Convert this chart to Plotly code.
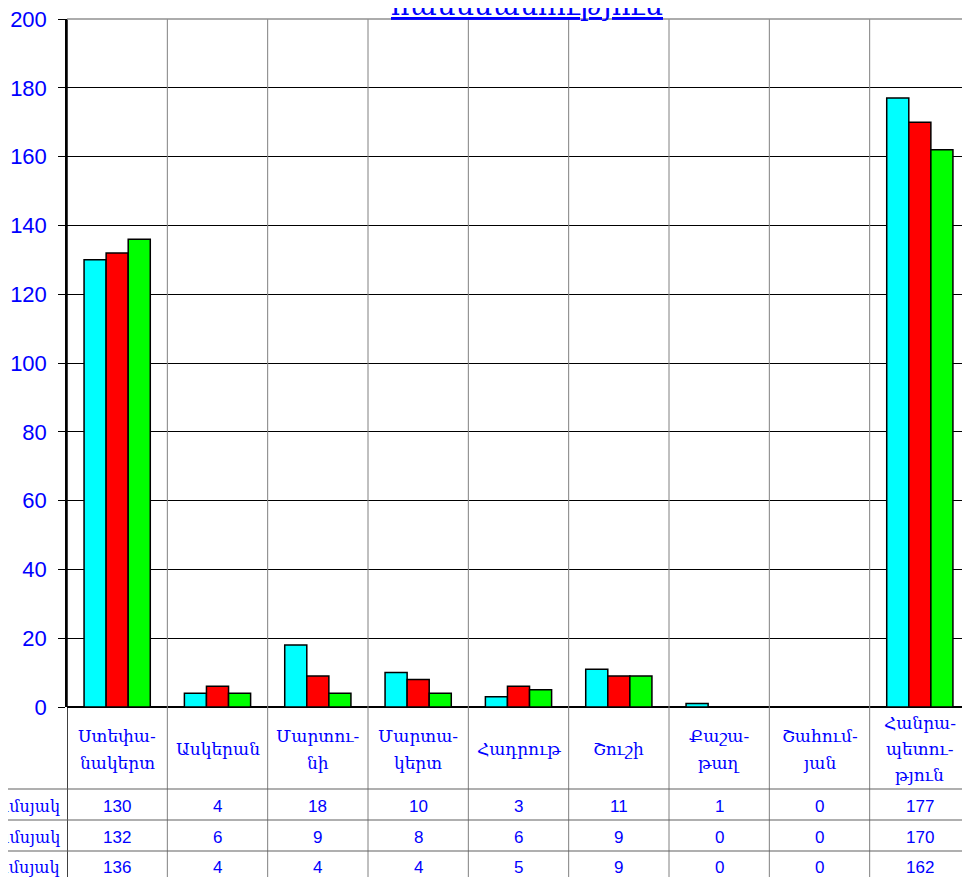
import plotly.graph_objs as go

categories = [["Ստեփա-", "նակերտ"], ["Ասկերան"], ["Մարտու-", "նի"], ["Մարտա-", "կերտ"], ["Հադրութ"],
              ["Շուշի"], ["Քաշա-", "թաղ"], ["Շահում-", "յան"], ["Հանրա-", "պետու-", "թյուն"]]
series_names = ["I եռամսյակ", "II եռամսյակ", "III եռամսյակ"]
series_1 = [130, 4, 18, 10, 3, 11, 1, 0, 177]
series_2 = [132, 6, 9, 8, 6, 9, 0, 0, 170]
series_3 = [136, 4, 4, 4, 5, 9, 0, 0, 162]
colors = ["#00ffff", "#ff0000", "#00ff00"]
y_ticks = [0, 20, 40, 60, 80, 100, 120, 140, 160, 180, 200]

# the page has an 8px body margin, so everything is laid out in page pixels
OFF = 8
W, H = 970, 877
LEFT, TOP, BOTTOM, RIGHT = 67, 19, 707, 970
plot_h = BOTTOM - TOP
plot_w = RIGHT - LEFT

def py(pix):
    # page pixel row -> paper y
    return (BOTTOM - pix) / plot_h

def px(pix):
    return (pix - LEFT) / plot_w

blue = "#0000ff"
x = list(range(len(categories)))

fig = go.Figure()
for name, vals, col in zip(series_names, [series_1, series_2, series_3], colors):
    fig.add_trace(go.Bar(
        x=x, y=vals, name=name,
        marker=dict(color=col, line=dict(color="black", width=1.5)),
    ))

shapes = []
# vertical category separators, running down through the table
for i in range(len(categories) + 1):
    shapes.append(dict(type="line", xref="x", yref="paper",
                       x0=i - 0.5, x1=i - 0.5, y0=py(H + 20), y1=1,
                       line=dict(color="#808080" if i > 0 else "black", width=1.5 if i == 0 else 1)))
# table horizontal lines
for pix in [789, 820, 851]:
    shapes.append(dict(type="line", xref="paper", yref="paper",
                       x0=px(-20), x1=1, y0=py(pix), y1=py(pix),
                       line=dict(color="#606060", width=1.2)))
# top border
shapes.append(dict(type="line", xref="paper", yref="paper", x0=0, x1=1, y0=1, y1=1,
                   line=dict(color="#909090", width=1.5)))

annotations = []
line_rows = {1: [749], 2: [736, 763], 3: [723, 749, 775]}
for i, parts in enumerate(categories):
    for part, pix in zip(parts, line_rows[len(parts)]):
        annotations.append(dict(x=i, y=py(pix), xref="x", yref="paper", text=part, showarrow=False,
                                font=dict(family="DejaVu Serif", size=17, color=blue),
                                xanchor="center", yanchor="middle"))
rows = [series_1, series_2, series_3]
row_pix = [806, 837, 867]
for name, vals, pix in zip(series_names, rows, row_pix):
    annotations.append(dict(x=px(62), y=py(pix), xref="paper", yref="paper", text=name,
                            showarrow=False, xanchor="right", yanchor="middle",
                            font=dict(family="DejaVu Serif", size=16, color=blue)))
    for i, v in enumerate(vals):
        annotations.append(dict(x=i, y=py(pix), xref="x", yref="paper", text=str(v), showarrow=False,
                                font=dict(family="Liberation Sans", size=17, color=blue),
                                xanchor="center", yanchor="middle"))
annotations.append(dict(x=px(527), y=py(5), xref="paper", yref="paper",
                        text="<u>համեմատություն</u>", showarrow=False, xanchor="center",
                        yanchor="middle", font=dict(family="DejaVu Serif", size=29, color=blue)))

fig.update_layout(
    width=W, height=H,
    margin=dict(l=LEFT - OFF, r=W - (RIGHT - OFF), t=TOP - OFF, b=H - (BOTTOM - OFF)),
    paper_bgcolor="white", plot_bgcolor="white",
    barmode="group", bargap=0.34, bargroupgap=0,
    showlegend=False,
    xaxis=dict(range=[-0.5, 8.5], showticklabels=False, showgrid=False, zeroline=False,
               showline=False, ticks="", automargin=False),
    yaxis=dict(range=[0, 200], tickvals=y_ticks, showgrid=True, gridcolor="black", gridwidth=1,
               zeroline=True, zerolinecolor="black", zerolinewidth=1.5,
               showline=True, linecolor="black", linewidth=1.5,
               ticks="outside", ticklen=7, tickcolor="black", ticklabelstandoff=7,
               ticklabeloverflow="allow", automargin=False,
               tickfont=dict(family="Liberation Sans", size=22, color=blue)),
    shapes=shapes, annotations=annotations,
)

fig.write_html("out.html")
